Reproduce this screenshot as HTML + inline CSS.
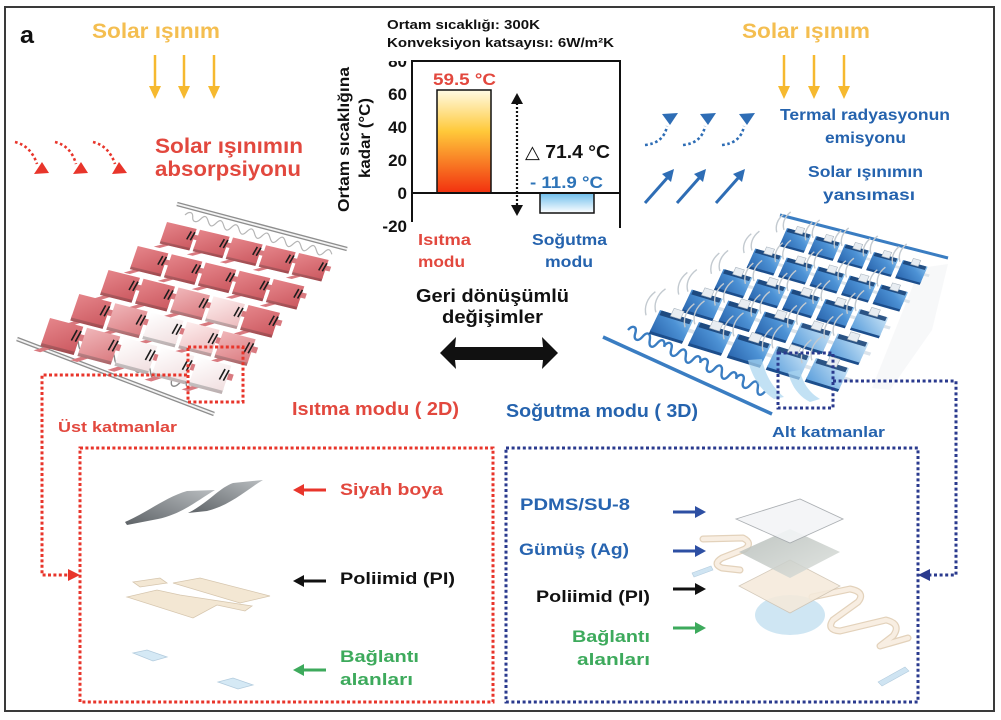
<!DOCTYPE html>
<html><head><meta charset="utf-8"><style>
html,body{margin:0;padding:0;background:#fff;}
svg{display:block;}
.t{font-family:"Liberation Sans","DejaVu Sans",sans-serif;font-weight:bold;}
</style></head><body>
<svg width="1001" height="720" viewBox="0 0 1001 720" xmlns="http://www.w3.org/2000/svg">
<defs>
 <linearGradient id="heat" x1="0" y1="0" x2="0" y2="1"><stop offset="0" stop-color="#FFFBE4"/><stop offset="0.4" stop-color="#FFC93A"/><stop offset="1" stop-color="#F2300F"/></linearGradient>
 <linearGradient id="cool" x1="0" y1="0" x2="0" y2="1"><stop offset="0" stop-color="#6CBDEB"/><stop offset="1" stop-color="#FFFFFF"/></linearGradient>
 <linearGradient id="gR" x1="0" y1="0" x2="1" y2="1"><stop offset="0" stop-color="#E5858A"/><stop offset="1" stop-color="#CC5A61"/></linearGradient>
 <linearGradient id="gP" x1="0" y1="0" x2="1" y2="1"><stop offset="0" stop-color="#F0B6B9"/><stop offset="1" stop-color="#DB7D82"/></linearGradient>
 <linearGradient id="gL" x1="0" y1="0" x2="1" y2="1"><stop offset="0" stop-color="#FDEDED"/><stop offset="1" stop-color="#EDBDBF"/></linearGradient>
 <linearGradient id="gW" x1="0" y1="0" x2="1" y2="1"><stop offset="0" stop-color="#FFFFFF"/><stop offset="1" stop-color="#F1DFE0"/></linearGradient>
 <linearGradient id="gB" x1="0" y1="1" x2="1" y2="0"><stop offset="0" stop-color="#2B67AF"/><stop offset="0.6" stop-color="#4D92D5"/><stop offset="1" stop-color="#8CC3EE"/></linearGradient>
 <linearGradient id="gB2" x1="0" y1="1" x2="1" y2="0"><stop offset="0" stop-color="#5C9FDC"/><stop offset="1" stop-color="#CBE5F7"/></linearGradient>
 <linearGradient id="paint" x1="0" y1="1" x2="1" y2="0"><stop offset="0" stop-color="#5E6367"/><stop offset="1" stop-color="#B9BDC0"/></linearGradient>
 <linearGradient id="ag" x1="0" y1="0" x2="1" y2="1"><stop offset="0" stop-color="#B4BBB7"/><stop offset="1" stop-color="#DCE0DC"/></linearGradient>
 <clipPath id="c80"><rect x="370" y="61" width="50" height="20"/></clipPath>

 <g id="rp">
  <polygon points="0.9,0.3 1.15,0.3 1.15,0.55 0.9,0.55" fill="#D97A80"/>
  <polygon points="0.25,1 0.45,1 0.05,1.35 -0.15,1.35" fill="#D97A80"/>
  <polygon points="0,0.9 1,0.9 1,1.13 0,1.13"/>
  <polygon points="0,0.9 1,0.9 1,1.13 0,1.13" fill="#000" opacity="0.22"/>
  <polygon points="0,0 1,0 1,1 0,1"/>
  <path d="M0.86,0.18 L0.8,0.62 M0.98,0.18 L0.92,0.62" stroke="#1d1d1d" stroke-width="1.6" vector-effect="non-scaling-stroke" fill="none"/>
 </g>
 <g id="bp">
  <path d="M-0.35,-0.7 C-0.5,-0.3 -0.45,0.1 -0.3,0.4 M-0.12,-0.95 C-0.28,-0.55 -0.24,-0.15 -0.08,0.15" stroke="#C3CAD0" stroke-width="1.4" vector-effect="non-scaling-stroke" fill="none"/>
  <polygon points="1,0.4 1.2,0.4 1.2,0.56 1,0.56" fill="#DCE4EB"/>
  <polygon points="0,0.9 1,0.9 1,1.13 0,1.13" fill="#1C4E8C"/>
  <polygon points="0,0 1,0 1,1 0,1"/>
  <polygon points="0.05,0 0.95,0 0.95,0.22 0.05,0.22" fill="#163E72" opacity="0.85"/>
  <polygon points="0.35,-0.25 0.65,-0.25 0.65,0.12 0.35,0.12" fill="#E8EDF2" stroke="#A9B4BE" stroke-width="0.6" vector-effect="non-scaling-stroke"/>
 </g>
</defs>

<rect width="1001" height="720" fill="#fff"/>
<rect x="5" y="7" width="989" height="704" fill="#fff" stroke="#3a3a3a" stroke-width="2"/>

<text class="t" x="20" y="43" font-size="24" textLength="14" lengthAdjust="spacingAndGlyphs" fill="#111">a</text>

<!-- Left solar -->
<text class="t" x="92" y="38" font-size="21" textLength="128" lengthAdjust="spacingAndGlyphs" fill="#F4BE50">Solar ışınım</text>
<g stroke="#F6B92F" stroke-width="2.5">
 <line x1="155" y1="55" x2="155" y2="88"/><line x1="184" y1="55" x2="184" y2="88"/><line x1="214" y1="55" x2="214" y2="88"/>
 <line x1="784" y1="55" x2="784" y2="88"/><line x1="814" y1="55" x2="814" y2="88"/><line x1="844" y1="55" x2="844" y2="88"/>
</g>
<g fill="#F6B92F">
 <polygon points="149,86 161,86 155,99"/><polygon points="178,86 190,86 184,99"/><polygon points="208,86 220,86 214,99"/>
 <polygon points="778,86 790,86 784,99"/><polygon points="808,86 820,86 814,99"/><polygon points="838,86 850,86 844,99"/>
</g>

<!-- red dotted curved arrows -->
<g fill="none" stroke="#E8352B" stroke-width="2.6" stroke-dasharray="2.6 2.6">
 <path d="M15,142 Q31,146 37,164"/><path d="M55,142 Q71,146 76,164"/><path d="M93,142 Q109,146 115,164"/>
</g>
<g fill="#E8352B">
 <polygon points="42,162 34,174 49,173"/><polygon points="81,162 73,174 88,173"/><polygon points="119,162 112,174 127,173"/>
</g>
<text class="t" x="155" y="153" font-size="21" textLength="148" lengthAdjust="spacingAndGlyphs" fill="#E2483E">Solar ışınımın</text>
<text class="t" x="155" y="176" font-size="21" textLength="146" lengthAdjust="spacingAndGlyphs" fill="#E2483E">absorpsiyonu</text>

<!-- Red device -->
<g>
 <path d="M177,204 L347,249" stroke="#8E8E8E" stroke-width="4.5"/>
 <path d="M177,204 L347,249" stroke="#F4F4F4" stroke-width="1.8"/>
 <path d="M17,339 L214,414" stroke="#8E8E8E" stroke-width="4.5"/>
 <path d="M17,339 L214,414" stroke="#F4F4F4" stroke-width="1.8"/>
 <g fill="none" stroke="#8A8A8A" stroke-width="1.4">
  <path d="M0,0 c3,-6 7,-6 8,0 s5,6 8,0 s5,-6 8,0 s5,6 8,0" transform="translate(56,336) rotate(20)"/>
  <path d="M0,0 c3,-6 7,-6 8,0 s5,6 8,0 s5,-6 8,0 s5,6 8,0" transform="translate(92,350) rotate(20)"/>
  <path d="M0,0 c3,-6 7,-6 8,0 s5,6 8,0 s5,-6 8,0 s5,6 8,0" transform="translate(128,364) rotate(20)"/>
  <path d="M0,0 c3,-6 7,-6 8,0 s5,6 8,0 s5,-6 8,0" transform="translate(164,378) rotate(20)"/>
 </g>
 <path d="M0,0 c3,-5 7,-5 8,0 s5,5 8,0 s5,-5 8,0 s5,5 8,0 s5,-5 8,0 s5,5 8,0 s5,-5 8,0 s5,5 8,0 s5,-5 8,0 s5,5 8,0 s5,-5 8,0 s5,5 8,0 s5,-5 8,0 s5,5 8,0 s5,-5 8,0 s5,5 8,0 s5,-5 8,0 s5,5 8,0 s5,-5 8,0" transform="translate(185,215) rotate(15)" fill="none" stroke="#B5B5B5" stroke-width="1.2"/>
 <!-- row 0 -->
 <use href="#rp" fill="url(#gR)" transform="matrix(29.7,7,-6.5,19,167,222)"/>
 <use href="#rp" fill="url(#gR)" transform="matrix(29.7,7,-6.5,19,200,229.75)"/>
 <use href="#rp" fill="url(#gR)" transform="matrix(29.7,7,-6.5,19,233,237.5)"/>
 <use href="#rp" fill="url(#gR)" transform="matrix(29.7,7,-6.5,19,266,245.25)"/>
 <use href="#rp" fill="url(#gR)" transform="matrix(29.7,7,-6.5,19,299,253)"/>
 <!-- row 1 -->
 <use href="#rp" fill="url(#gR)" transform="matrix(30.6,7.4,-7,20.5,137.75,246)"/>
 <use href="#rp" fill="url(#gR)" transform="matrix(30.6,7.4,-7,20.5,171.75,254.25)"/>
 <use href="#rp" fill="url(#gR)" transform="matrix(30.6,7.4,-7,20.5,205.75,262.5)"/>
 <use href="#rp" fill="url(#gR)" transform="matrix(30.6,7.4,-7,20.5,239.75,270.75)"/>
 <use href="#rp" fill="url(#gR)" transform="matrix(30.6,7.4,-7,20.5,273.75,279)"/>
 <!-- row 2 -->
 <use href="#rp" fill="url(#gR)" transform="matrix(31.5,7.9,-7.5,22,108.5,270)"/>
 <use href="#rp" fill="url(#gR)" transform="matrix(31.5,7.9,-7.5,22,143.5,278.75)"/>
 <use href="#rp" fill="url(#gP)" transform="matrix(31.5,7.9,-7.5,22,178.5,287.5)"/>
 <use href="#rp" fill="url(#gL)" transform="matrix(31.5,7.9,-7.5,22,213.5,296.25)"/>
 <use href="#rp" fill="url(#gR)" transform="matrix(31.5,7.9,-7.5,22,248.5,305)"/>
 <!-- row 3 -->
 <use href="#rp" fill="url(#gR)" transform="matrix(32.4,8.3,-8,23.5,79.25,294)"/>
 <use href="#rp" fill="url(#gP)" transform="matrix(32.4,8.3,-8,23.5,115.25,303.25)"/>
 <use href="#rp" fill="url(#gW)" transform="matrix(32.4,8.3,-8,23.5,151.25,312.5)"/>
 <use href="#rp" fill="url(#gL)" transform="matrix(32.4,8.3,-8,23.5,187.25,321.75)"/>
 <use href="#rp" fill="url(#gP)" transform="matrix(32.4,8.3,-8,23.5,223.25,331)"/>
 <!-- row 4 -->
 <use href="#rp" fill="url(#gR)" transform="matrix(33.3,8.8,-8.5,25,50,318)"/>
 <use href="#rp" fill="url(#gP)" transform="matrix(33.3,8.8,-8.5,25,87,327.75)"/>
 <use href="#rp" fill="url(#gW)" transform="matrix(33.3,8.8,-8.5,25,124,337.5)"/>
 <use href="#rp" fill="url(#gW)" transform="matrix(33.3,8.8,-8.5,25,161,347.25)"/>
 <use href="#rp" fill="url(#gW)" transform="matrix(33.3,8.8,-8.5,25,198,357)"/>
</g>

<!-- Chart -->
<text class="t" x="387" y="29" font-size="13" textLength="153" lengthAdjust="spacingAndGlyphs" fill="#111">Ortam sıcaklığı: 300K</text>
<text class="t" x="387" y="47" font-size="13" textLength="227" lengthAdjust="spacingAndGlyphs" fill="#111">Konveksiyon katsayısı: 6W/m²K</text>
<g class="t" font-size="17" fill="#111" text-anchor="end">
 <text x="407" y="67" clip-path="url(#c80)">80</text>
 <text x="407" y="100">60</text>
 <text x="407" y="133">40</text>
 <text x="407" y="166">20</text>
 <text x="407" y="199">0</text>
 <text x="407" y="232">-20</text>
</g>
<text class="t" font-size="16" fill="#111" text-anchor="middle" textLength="145" lengthAdjust="spacingAndGlyphs" transform="translate(349,139.5) rotate(-90)">Ortam sıcaklığına</text>
<text class="t" font-size="16" fill="#111" text-anchor="middle" textLength="80" lengthAdjust="spacingAndGlyphs" transform="translate(370,138) rotate(-90)">kadar (°C)</text>
<rect x="437" y="90" width="54" height="103" fill="url(#heat)" stroke="#111" stroke-width="1.5"/>
<rect x="540" y="193" width="54" height="20" fill="url(#cool)" stroke="#111" stroke-width="1.5"/>
<g stroke="#111" stroke-width="2" fill="none">
 <path d="M412,222 L412,61 L620,61 L620,228"/>
 <line x1="412" y1="193" x2="620" y2="193"/>
</g>
<line x1="517" y1="103" x2="517" y2="206" stroke="#111" stroke-width="2.2" stroke-dasharray="2 2"/>
<polygon points="517,93 511,104 523,104" fill="#111"/>
<polygon points="517,216 511,205 523,205" fill="#111"/>
<text class="t" x="433" y="85" font-size="17" textLength="63" lengthAdjust="spacingAndGlyphs" fill="#E2483E">59.5 °C</text>
<text class="t" x="525" y="158" font-size="18" textLength="85" lengthAdjust="spacingAndGlyphs" fill="#111">△ 71.4 °C</text>
<text class="t" x="530" y="188" font-size="17" textLength="73" lengthAdjust="spacingAndGlyphs" fill="#2E74B8">- 11.9 °C</text>
<text class="t" x="418" y="245" font-size="16" textLength="53" lengthAdjust="spacingAndGlyphs" fill="#E2483E">Isıtma</text>
<text class="t" x="418" y="267" font-size="16" textLength="47" lengthAdjust="spacingAndGlyphs" fill="#E2483E">modu</text>
<text class="t" x="532" y="245" font-size="16" textLength="75" lengthAdjust="spacingAndGlyphs" fill="#2563AE">Soğutma</text>
<text class="t" x="545" y="267" font-size="16" textLength="48" lengthAdjust="spacingAndGlyphs" fill="#2563AE">modu</text>
<text class="t" x="416" y="302" font-size="18" textLength="153" lengthAdjust="spacingAndGlyphs" fill="#111">Geri dönüşümlü</text>
<text class="t" x="442" y="323" font-size="18" textLength="101" lengthAdjust="spacingAndGlyphs" fill="#111">değişimler</text>
<polygon points="440,353 456,337 455,347 543,347 542,337 558,353 542,369 543,360 455,360 456,369" fill="#111"/>

<!-- Right solar -->
<text class="t" x="742" y="38" font-size="21" textLength="128" lengthAdjust="spacingAndGlyphs" fill="#F4BE50">Solar ışınım</text>
<g fill="none" stroke="#2E6DB5" stroke-width="2.6" stroke-dasharray="2.6 2.6">
 <path d="M645,145 Q664,143 667,126"/><path d="M683,145 Q702,143 705,126"/><path d="M722,145 Q741,143 744,126"/>
</g>
<g fill="#2E6DB5">
 <polygon points="662,114 678,113 670,125"/><polygon points="700,114 716,113 708,125"/><polygon points="739,114 755,113 747,125"/>
</g>
<g stroke="#2E6DB5" stroke-width="3">
 <line x1="645" y1="203" x2="668" y2="177"/><line x1="677" y1="203" x2="700" y2="177"/><line x1="716" y1="203" x2="739" y2="177"/>
</g>
<g fill="#2E6DB5">
 <polygon points="674,169 662,174 671,182"/><polygon points="706,169 694,174 703,182"/><polygon points="745,169 733,174 742,182"/>
</g>
<text class="t" x="780" y="120" font-size="16" textLength="170" lengthAdjust="spacingAndGlyphs" fill="#2563AE">Termal radyasyonun</text>
<text class="t" x="825" y="143" font-size="16" textLength="81" lengthAdjust="spacingAndGlyphs" fill="#2563AE">emisyonu</text>
<text class="t" x="808" y="177" font-size="16" textLength="115" lengthAdjust="spacingAndGlyphs" fill="#2563AE">Solar ışınımın</text>
<text class="t" x="823" y="200" font-size="16" textLength="92" lengthAdjust="spacingAndGlyphs" fill="#2563AE">yansıması</text>

<!-- Blue device -->
<g>
 <path d="M780,215 L948,258" stroke="#3A7DC2" stroke-width="3"/>
 <path d="M603,337 L772,414" stroke="#3A7DC2" stroke-width="3.5"/>
 <g fill="none" stroke="#3A7DC2" stroke-width="2.4">
  <path d="M0,0 c2,-7 7,-7 8,0 s6,7 8,0 s6,-7 8,0 s6,7 8,0 s6,-7 8,0" transform="translate(628,330) rotate(25)"/>
  <path d="M0,0 c2,-7 7,-7 8,0 s6,7 8,0 s6,-7 8,0 s6,7 8,0 s6,-7 8,0" transform="translate(664,346) rotate(25)"/>
  <path d="M0,0 c2,-7 7,-7 8,0 s6,7 8,0 s6,-7 8,0 s6,7 8,0 s6,-7 8,0" transform="translate(700,362) rotate(25)"/>
  <path d="M0,0 c2,-7 7,-7 8,0 s6,7 8,0 s6,-7 8,0 s6,7 8,0" transform="translate(736,378) rotate(25)"/>
 </g>
 <path d="M920,268 L948,264 L932,330 L890,390 L872,388 Z" fill="#E9EBED" opacity="0.35"/>
 <!-- row 0 -->
 <use href="#bp" fill="url(#gB)" transform="matrix(24.6,6.8,-7,16,787,228)"/>
 <use href="#bp" fill="url(#gB)" transform="matrix(24.6,6.8,-7,16,816,236)"/>
 <use href="#bp" fill="url(#gB)" transform="matrix(24.6,6.8,-7,16,845,244)"/>
 <use href="#bp" fill="url(#gB)" transform="matrix(24.6,6.8,-7,16,874,252)"/>
 <use href="#bp" fill="url(#gB)" transform="matrix(24.6,6.8,-7,16,903,260)"/>
 <!-- row 1 -->
 <use href="#bp" fill="url(#gB)" transform="matrix(26.8,7.65,-7.75,17.25,755.25,248.5)"/>
 <use href="#bp" fill="url(#gB)" transform="matrix(26.8,7.65,-7.75,17.25,786.75,257.5)"/>
 <use href="#bp" fill="url(#gB)" transform="matrix(26.8,7.65,-7.75,17.25,818.25,266.5)"/>
 <use href="#bp" fill="url(#gB)" transform="matrix(26.8,7.65,-7.75,17.25,849.75,275.5)"/>
 <use href="#bp" fill="url(#gB)" transform="matrix(26.8,7.65,-7.75,17.25,881.25,284.5)"/>
 <!-- row 2 -->
 <use href="#bp" fill="url(#gB)" transform="matrix(28.9,8.5,-8.5,18.5,723.5,269)"/>
 <use href="#bp" fill="url(#gB)" transform="matrix(28.9,8.5,-8.5,18.5,757.5,279)"/>
 <use href="#bp" fill="url(#gB)" transform="matrix(28.9,8.5,-8.5,18.5,791.5,289)"/>
 <use href="#bp" fill="url(#gB)" transform="matrix(28.9,8.5,-8.5,18.5,825.5,299)"/>
 <use href="#bp" fill="url(#gB2)" transform="matrix(28.9,8.5,-8.5,18.5,859.5,309)"/>
 <!-- row 3 -->
 <use href="#bp" fill="url(#gB)" transform="matrix(31,9.35,-9.25,19.75,691.75,289.5)"/>
 <use href="#bp" fill="url(#gB)" transform="matrix(31,9.35,-9.25,19.75,728.25,300.5)"/>
 <use href="#bp" fill="url(#gB)" transform="matrix(31,9.35,-9.25,19.75,764.75,311.5)"/>
 <use href="#bp" fill="url(#gB2)" transform="matrix(31,9.35,-9.25,19.75,801.25,322.5)"/>
 <use href="#bp" fill="url(#gB2)" transform="matrix(31,9.35,-9.25,19.75,837.75,333.5)"/>
 <!-- row 4 -->
 <use href="#bp" fill="url(#gB)" transform="matrix(33.2,10.2,-10,21,660,310)"/>
 <use href="#bp" fill="url(#gB)" transform="matrix(33.2,10.2,-10,21,699,322)"/>
 <use href="#bp" fill="url(#gB)" transform="matrix(33.2,10.2,-10,21,738,334)"/>
 <use href="#bp" fill="url(#gB2)" transform="matrix(33.2,10.2,-10,21,777,346)"/>
 <use href="#bp" fill="url(#gB2)" transform="matrix(33.2,10.2,-10,21,816,358)"/>
 <path d="M748,360 C751,375 760,390 774,399 L784,397 C772,387 765,374 762,359 Z" fill="#A8D4F0" opacity="0.7"/>
 <path d="M788,372 C791,385 798,396 810,402 L820,399 C808,392 802,381 800,370 Z" fill="#A8D4F0" opacity="0.7"/>
</g>

<!-- Dotted connectors -->
<g fill="none" stroke="#E8352B" stroke-width="3" stroke-dasharray="3 2.4">
 <rect x="188" y="347" width="55" height="55"/>
 <path d="M187,375 L42,375 L42,575 L70,575"/>
 <rect x="80" y="448" width="413" height="254"/>
</g>
<polygon points="68,569 80,575 68,581" fill="#E8352B"/>
<g fill="none" stroke="#2A3A8E" stroke-width="3" stroke-dasharray="3 2.6">
 <rect x="778" y="353" width="55" height="55"/>
 <path d="M833,381 L956,381 L956,575 L930,575"/>
 <rect x="506" y="448" width="412" height="254"/>
</g>
<polygon points="930,569 918,575 930,581" fill="#2A3A8E"/>

<text class="t" x="58" y="432" font-size="15" textLength="119" lengthAdjust="spacingAndGlyphs" fill="#E2483E">Üst katmanlar</text>
<text class="t" x="292" y="415" font-size="18" textLength="167" lengthAdjust="spacingAndGlyphs" fill="#E2483E">Isıtma modu ( 2D)</text>
<text class="t" x="506" y="417" font-size="18" textLength="192" lengthAdjust="spacingAndGlyphs" fill="#2563AE">Soğutma modu ( 3D)</text>
<text class="t" x="772" y="437" font-size="15" textLength="113" lengthAdjust="spacingAndGlyphs" fill="#2563AE">Alt katmanlar</text>

<!-- Red box contents -->
<path d="M125,522 C148,512 166,497 187,491 L215,490 C198,500 182,514 158,519 L127,525 Z" fill="url(#paint)"/>
<path d="M188,513 C208,503 219,488 233,483 L263,480 C246,490 231,505 207,511 Z" fill="url(#paint)"/>
<g fill="#F3E7D3" stroke="#D6C6AE" stroke-width="0.8">
 <polygon points="133,582 160,578 167,583 140,587"/>
 <polygon points="173,583 200,578 270,596 240,603"/>
 <polygon points="127,597 157,590 180,595 252,606 245,611 217,605 193,618"/>
</g>
<g fill="#D5E9F5" stroke="#B3CCDE" stroke-width="0.8">
 <polygon points="133,653 147,650 167,657 153,661"/>
 <polygon points="218,682 233,678 253,685 238,689"/>
</g>
<line x1="326" y1="490" x2="302" y2="490" stroke="#E8352B" stroke-width="3"/>
<polygon points="293,490 304,484 304,496" fill="#E8352B"/>
<line x1="326" y1="581" x2="302" y2="581" stroke="#111" stroke-width="3"/>
<polygon points="293,581 304,575 304,587" fill="#111"/>
<line x1="326" y1="670" x2="302" y2="670" stroke="#3DAA5C" stroke-width="3"/>
<polygon points="293,670 304,664 304,676" fill="#3DAA5C"/>
<text class="t" x="340" y="495" font-size="17" textLength="103" lengthAdjust="spacingAndGlyphs" fill="#E2483E">Siyah boya</text>
<text class="t" x="340" y="584" font-size="17" textLength="115" lengthAdjust="spacingAndGlyphs" fill="#111">Poliimid (PI)</text>
<text class="t" x="340" y="662" font-size="17" textLength="79" lengthAdjust="spacingAndGlyphs" fill="#3DAA5C">Bağlantı</text>
<text class="t" x="340" y="685" font-size="17" textLength="73" lengthAdjust="spacingAndGlyphs" fill="#3DAA5C">alanları</text>

<!-- Blue box contents -->
<text class="t" x="520" y="510" font-size="17" textLength="110" lengthAdjust="spacingAndGlyphs" fill="#2764B0">PDMS/SU-8</text>
<text class="t" x="519" y="555" font-size="17" textLength="110" lengthAdjust="spacingAndGlyphs" fill="#2764B0">Gümüş (Ag)</text>
<text class="t" x="536" y="602" font-size="17" textLength="114" lengthAdjust="spacingAndGlyphs" fill="#111">Poliimid (PI)</text>
<text class="t" x="572" y="642" font-size="17" textLength="78" lengthAdjust="spacingAndGlyphs" fill="#3DAA5C">Bağlantı</text>
<text class="t" x="577" y="665" font-size="17" textLength="73" lengthAdjust="spacingAndGlyphs" fill="#3DAA5C">alanları</text>
<line x1="673" y1="512" x2="696" y2="512" stroke="#2D4FA3" stroke-width="3"/>
<polygon points="706,512 695,506 695,518" fill="#2D4FA3"/>
<line x1="673" y1="551" x2="696" y2="551" stroke="#2D4FA3" stroke-width="3"/>
<polygon points="706,551 695,545 695,557" fill="#2D4FA3"/>
<line x1="673" y1="589" x2="696" y2="589" stroke="#111" stroke-width="3"/>
<polygon points="706,589 695,583 695,595" fill="#111"/>
<line x1="673" y1="628" x2="696" y2="628" stroke="#3DAA5C" stroke-width="3"/>
<polygon points="706,628 695,622 695,634" fill="#3DAA5C"/>

<ellipse cx="790" cy="615" rx="35" ry="20" fill="#CFE6F3"/>
<g fill="none" stroke-linecap="round" stroke-linejoin="round">
 <path d="M703,539 L743,538 Q753,543 745,549 L722,558 Q712,564 722,568 L740,570" stroke="#E3D2BB" stroke-width="7"/>
 <path d="M703,539 L743,538 Q753,543 745,549 L722,558 Q712,564 722,568 L740,570" stroke="#F8EEE2" stroke-width="4.5"/>
 <path d="M812,597 L850,589 Q866,592 858,602 L833,620 Q826,630 840,631 L886,620 Q902,624 893,636 L880,646 L908,638" stroke="#E3D2BB" stroke-width="7"/>
 <path d="M812,597 L850,589 Q866,592 858,602 L833,620 Q826,630 840,631 L886,620 Q902,624 893,636 L880,646 L908,638" stroke="#F8EEE2" stroke-width="4.5"/>
</g>
<polygon points="692,573 711,566 713,570 694,577" fill="#CFE4F2" stroke="#B3CCDE" stroke-width="0.6"/>
<polygon points="739,586 790,560 840,586 790,613" fill="#F5EADB" opacity="0.88" stroke="#CFC3B2" stroke-width="0.8"/>
<polygon points="739,552 790,529 840,552 790,578" fill="url(#ag)" opacity="0.85"/>
<polygon points="736,519 800,499 843,519 790,543" fill="#F3F5F7" opacity="0.9" stroke="#A4A8AC" stroke-width="0.9"/>
<polygon points="878,682 905,667 909,671 882,686" fill="#CFE4F2" stroke="#B3CCDE" stroke-width="0.6"/>
</svg>
</body></html>
